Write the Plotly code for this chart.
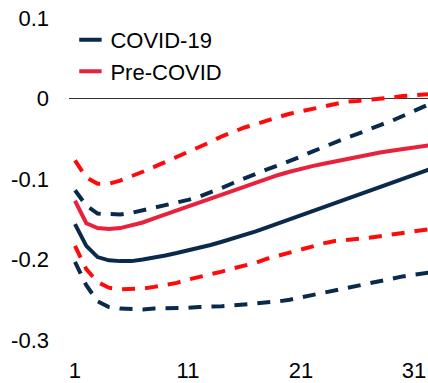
import plotly.graph_objects as go

horizon = list(range(1, 34))

covid_mid = [-0.156, -0.183, -0.197, -0.201, -0.202, -0.202, -0.200, -0.198, -0.195, -0.192,
             -0.189, -0.186, -0.182, -0.178, -0.174, -0.170, -0.165, -0.160, -0.155, -0.150,
             -0.145, -0.140, -0.135, -0.130, -0.125, -0.120, -0.115, -0.110, -0.105, -0.100,
             -0.095, -0.090, -0.085]
covid_hi = [-0.114, -0.133, -0.143, -0.144, -0.144, -0.142, -0.139, -0.136, -0.133, -0.130,
            -0.126, -0.122, -0.117, -0.111, -0.105, -0.099, -0.094, -0.088, -0.083, -0.078,
            -0.072, -0.066, -0.060, -0.054, -0.049, -0.044, -0.038, -0.033, -0.028, -0.022,
            -0.016, -0.009, -0.003]
covid_lo = [-0.203, -0.232, -0.252, -0.259, -0.261, -0.262, -0.262, -0.261, -0.261, -0.260,
            -0.260, -0.259, -0.259, -0.258, -0.257, -0.256, -0.255, -0.254, -0.252, -0.250,
            -0.247, -0.244, -0.241, -0.238, -0.235, -0.232, -0.229, -0.226, -0.223, -0.221,
            -0.219, -0.217, -0.215]

pre_mid = [-0.127, -0.155, -0.161, -0.162, -0.161, -0.158, -0.154, -0.149, -0.144, -0.139,
           -0.134, -0.129, -0.124, -0.119, -0.114, -0.109, -0.104, -0.099, -0.095, -0.091,
           -0.087, -0.084, -0.081, -0.078, -0.075, -0.072, -0.070, -0.067, -0.065, -0.063,
           -0.061, -0.059, -0.057]
pre_hi = [-0.077, -0.098, -0.106, -0.106, -0.102, -0.097, -0.091, -0.085, -0.079, -0.072,
          -0.066, -0.060, -0.054, -0.047, -0.041, -0.036, -0.032, -0.027, -0.023, -0.019,
          -0.016, -0.012, -0.009, -0.006, -0.004, -0.003, -0.002, 0.000, 0.001, 0.003,
          0.004, 0.005, 0.006]
pre_lo = [-0.183, -0.212, -0.228, -0.235, -0.237, -0.237, -0.236, -0.234, -0.232, -0.229,
          -0.225, -0.222, -0.218, -0.215, -0.211, -0.208, -0.204, -0.199, -0.195, -0.191,
          -0.187, -0.183, -0.180, -0.177, -0.176, -0.174, -0.173, -0.171, -0.169, -0.167,
          -0.165, -0.163, -0.161]

x_ticks = [1, 11, 21, 31]
y_ticks = [0.1, 0, -0.1, -0.2, -0.3]
y_ticktext = ["0.1", "0", "-0.1", "-0.2", "-0.3"]

NAVY = "#0a2a4c"
RED_SOLID = "#e8223c"
RED_DASH = "#ff0a0a"
DASH = "13px,10px"
LW = 4

fig = go.Figure()

fig.add_trace(go.Scatter(x=horizon, y=pre_hi, mode="lines", showlegend=False,
                         line=dict(color=RED_DASH, width=LW, dash=DASH)))
fig.add_trace(go.Scatter(x=horizon, y=pre_lo, mode="lines", showlegend=False,
                         line=dict(color=RED_DASH, width=LW, dash=DASH)))
fig.add_trace(go.Scatter(x=horizon, y=covid_hi, mode="lines", showlegend=False,
                         line=dict(color=NAVY, width=LW, dash=DASH)))
fig.add_trace(go.Scatter(x=horizon, y=covid_lo, mode="lines", showlegend=False,
                         line=dict(color=NAVY, width=LW, dash=DASH)))
fig.add_trace(go.Scatter(x=horizon, y=pre_mid, mode="lines", showlegend=False,
                         line=dict(color=RED_SOLID, width=LW)))
fig.add_trace(go.Scatter(x=horizon, y=covid_mid, mode="lines", showlegend=False,
                         line=dict(color=NAVY, width=LW)))

# legend entries
fig.add_trace(go.Scatter(x=[None], y=[None], mode="markers", name="COVID-19",
                         marker=dict(symbol="line-ew-open", size=16, color=NAVY,
                                     line=dict(color=NAVY, width=4))))
fig.add_trace(go.Scatter(x=[None], y=[None], mode="markers", name="Pre-COVID",
                         marker=dict(symbol="line-ew-open", size=16, color=RED_SOLID,
                                     line=dict(color=RED_SOLID, width=4))))

fig.update_layout(
    width=428, height=383,
    margin=dict(l=69, r=0, t=10, b=33),
    paper_bgcolor="white", plot_bgcolor="white",
    font=dict(family="Liberation Sans, Arial, sans-serif", size=22, color="#000"),
    showlegend=True,
    legend=dict(x=0.004, y=0.974, xanchor="left", yanchor="top", xref="paper", yref="paper",
                bgcolor="rgba(0,0,0,0)", font=dict(size=22), tracegroupgap=0,
                itemwidth=30),
    xaxis=dict(range=[0.47, 32.24], tickvals=x_ticks, showgrid=False, zeroline=False,
               showline=False, ticks="", ticklabelstandoff=5),
    yaxis=dict(range=[-0.3124, 0.1099], tickvals=y_ticks, ticktext=y_ticktext,
               showgrid=False, zeroline=True, zerolinecolor="#333", zerolinewidth=1,
               showline=False, ticks="", ticklabelstandoff=19),
)

fig.write_html("out.html")
